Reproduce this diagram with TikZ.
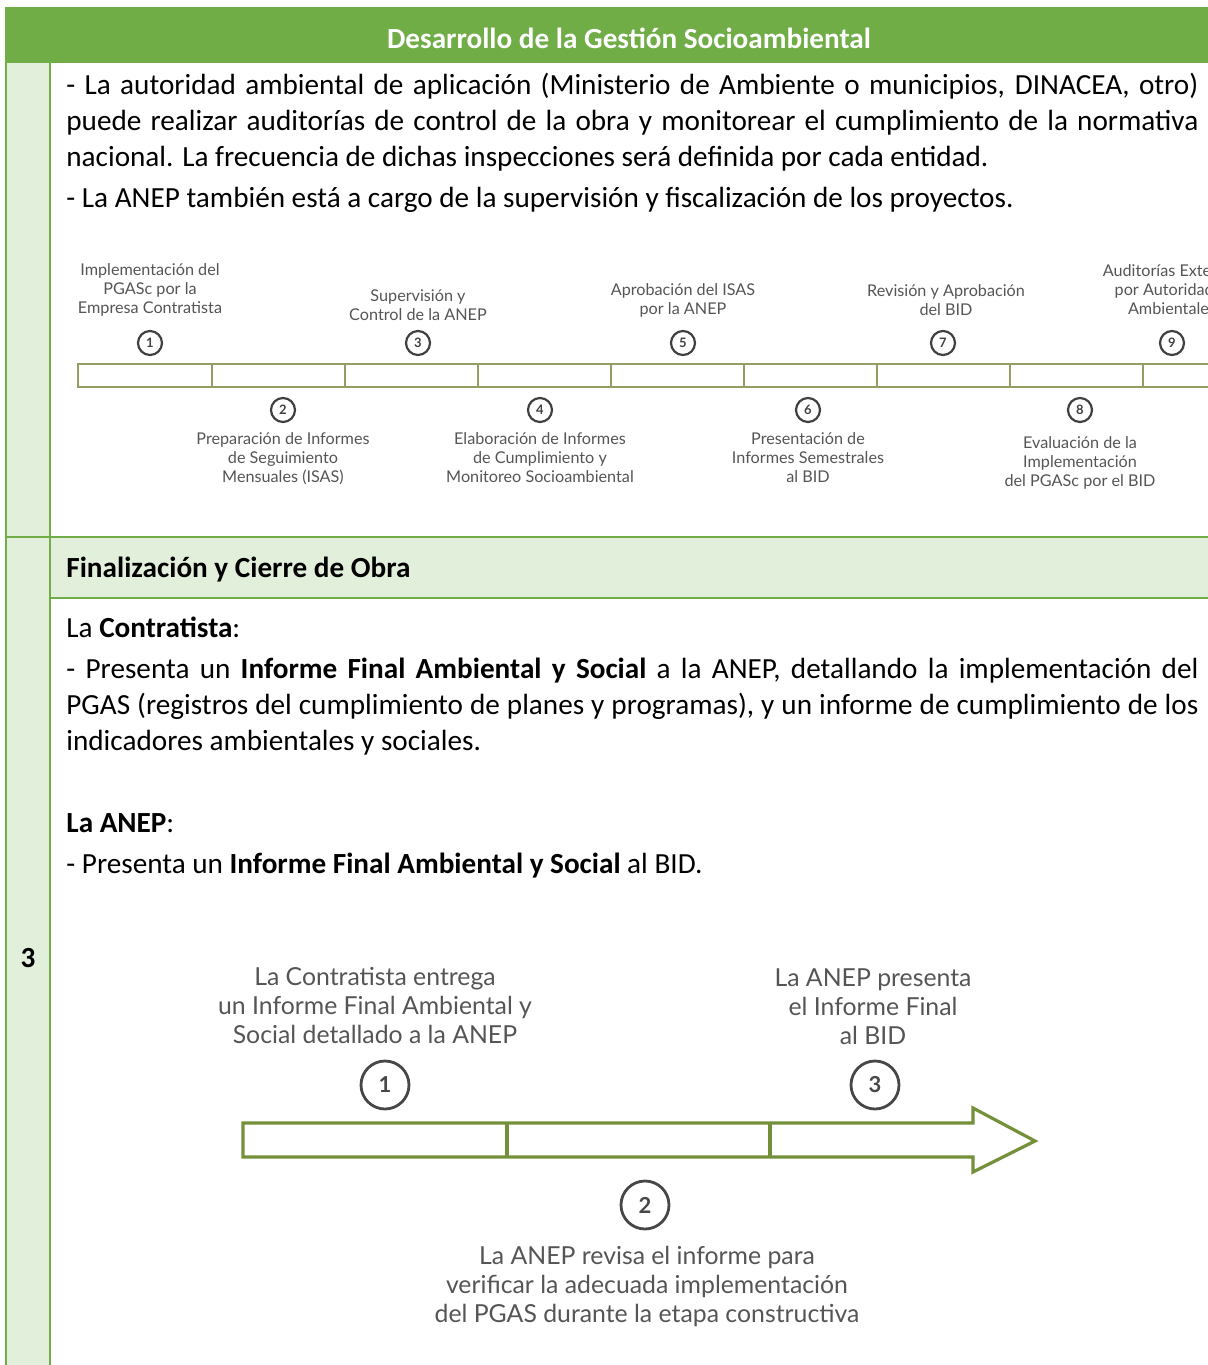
\documentclass[tikz,border=0pt]{standalone}
\usepackage{fontspec}
\setmainfont{Carlito}
\newfontfamily\diagfont{Lato}
\definecolor{hdrgreen}{HTML}{70AD47}
\definecolor{lightgreen}{HTML}{E2EFDA}
\definecolor{bargreen}{HTML}{939F62}
\definecolor{arrowgreen}{HTML}{75903A}
\definecolor{labelgray}{HTML}{555555}
\newcommand{\fullline}[1]{\hbox to 566pt{#1}}

\begin{document}
\begin{tikzpicture}[x=0.5pt, y=-0.5pt,
  body/.style={anchor=base west, inner sep=0pt, font=\fontsize{14.6}{17}\selectfont},
  rule/.style={draw=hdrgreen, line width=1pt},
  smallnum/.style={circle, draw=black!75, line width=1.1pt, minimum size=12pt, inner sep=0pt,
    text=black!75, font=\diagfont\bfseries\fontsize{6.5}{7}\selectfont},
  bignum/.style={circle, draw=black!72, line width=1.4pt, minimum size=24pt, inner sep=0pt,
    text=black!72, font=\diagfont\bfseries\fontsize{11}{12}\selectfont},
  smalllbl/.style={align=center, inner sep=0pt, text=labelgray, font=\diagfont\fontsize{8.1}{9.5}\selectfont},
  biglbl/.style={align=center, inner sep=0pt, text=labelgray, font=\diagfont\fontsize{12.4}{14.5}\selectfont},
  bar/.style={draw=bargreen, line width=1.2pt},
  arrowline/.style={draw=arrowgreen, line width=1.6pt, line join=miter}]
\useasboundingbox (0,0) rectangle (1208,1365);
\clip (0,0) rectangle (1208,1365);

\fill[hdrgreen] (6,7) rectangle (1208,62);
\fill[lightgreen] (6,62) rectangle (50,1365);
\fill[lightgreen] (50,537) rectangle (1208,598);
\draw[rule] (6,7) -- (6,1365);
\draw[rule] (50,62) -- (50,1365);
\draw[rule] (6,62) -- (1208,62);
\draw[rule] (6,537) -- (1208,537);
\draw[rule] (50,598) -- (1208,598);

\node[text=white, inner sep=0pt, font=\bfseries\fontsize{14.6}{17}\selectfont] (hdr) at (629,38) {Desarrollo de la Gestión Socioambiental};
\node[body] (autoridad1) at (66,94) {\fullline{- La autoridad ambiental de aplicación (Ministerio de Ambiente o municipios, DINACEA, otro)}};
\node[body] (autoridad2) at (66,130) {\fullline{puede realizar auditorías de control de la obra y monitorear el cumplimiento de la normativa}};
\node[body] (autoridad3) at (66,166) {nacional. La frecuencia de dichas inspecciones será definida por cada entidad.};
\node[body] (supervision) at (66,207) {- La ANEP también está a cargo de la supervisión y fiscalización de los proyectos.};

\draw[bar] (78,364) rectangle (1240,387);
\foreach \x in {212,345,478,611,744,877,1010,1143}
  \draw[bar] (\x,364) -- (\x,387);
\foreach \n/\x/\y in {1/150/343, 2/283/410, 3/418/343, 4/540/410, 5/683/343, 6/808/410, 7/943/343, 8/1080/410, 9/1172/343}
  \node[smallnum] (s\n) at (\x,\y) {\n};

\node[smalllbl] (implementacion) at (150,290) {Implementación del\\PGASc por la\\Empresa Contratista};
\node[smalllbl] (supcontrol) at (418,305) {Supervisión y\\Control de la ANEP};
\node[smalllbl] (aprobisas) at (683,300) {Aprobación del ISAS\\por la ANEP};
\node[smalllbl] (revbid) at (946,300) {Revisión y Aprobación\\del BID};
\node[smalllbl] (auditorias) at (1172,290) {Auditorías Externas\\por Autoridades\\Ambientales};
\node[smalllbl] (preparacion) at (283,459) {Preparación de Informes\\de Seguimiento\\Mensuales (ISAS)};
\node[smalllbl] (elaboracion) at (540,458) {Elaboración de Informes\\de Cumplimiento y\\Monitoreo Socioambiental};
\node[smalllbl] (semestrales) at (808,458) {Presentación de\\Informes Semestrales\\al BID};
\node[smalllbl] (evaluacion) at (1080,463) {Evaluación de la\\Implementación\\del PGASc por el BID};

\node[body, font=\bfseries\fontsize{14.6}{17}\selectfont] (cierre) at (66,577) {Finalización y Cierre de Obra};
\node[body] (contratista) at (66,637) {La \textbf{Contratista}:};
\node[body] (informe1) at (66,678) {\fullline{- Presenta un \textbf{Informe Final Ambiental y Social} a la ANEP, detallando la implementación del}};
\node[body] (informe2) at (66,714) {\fullline{PGAS (registros del cumplimiento de planes y programas), y un informe de cumplimiento de los}};
\node[body] (informe3) at (66,750) {indicadores ambientales y sociales.};
\node[body] (laanep) at (66,832) {\textbf{La ANEP}:};
\node[body] (presenta) at (66,873) {- Presenta un \textbf{Informe Final Ambiental y Social} al BID.};
\node[inner sep=0pt, font=\bfseries\fontsize{14.6}{17}\selectfont] (rownum) at (28,958) {3};

\draw[arrowline] (243,1123) -- (973,1123) -- (973,1108) -- (1035,1141) -- (973,1172) -- (973,1157) -- (243,1157) -- cycle;
\draw[arrowline] (507,1123) -- (507,1157);
\draw[arrowline] (770,1123) -- (770,1157);
\node[bignum] (b1) at (385,1085) {1};
\node[bignum] (b2) at (645,1205) {2};
\node[bignum] (b3) at (875,1085) {3};
\node[biglbl] (entrega) at (375,1005) {La Contratista entrega\\un Informe Final Ambiental y\\Social detallado a la ANEP};
\node[biglbl] (presentafinal) at (873,1007) {La ANEP presenta\\el Informe Final\\al BID};
\node[biglbl] (revisa) at (647,1286) {La ANEP revisa el informe para\\verificar la adecuada implementación\\del PGAS durante la etapa constructiva};
\end{tikzpicture}
\end{document}
